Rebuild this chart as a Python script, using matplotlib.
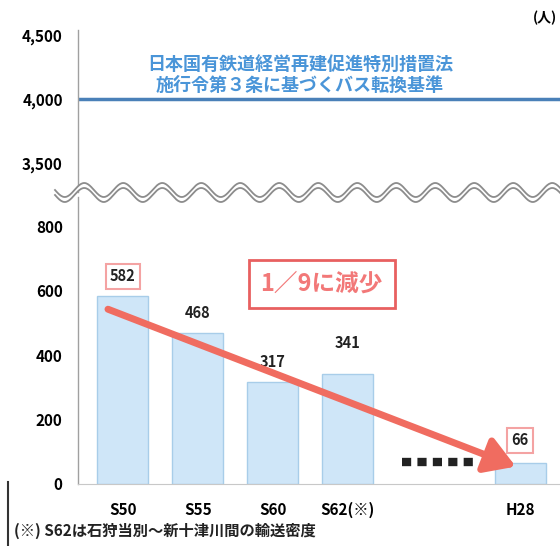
import numpy as np
import matplotlib.pyplot as plt
from matplotlib.lines import Line2D
from matplotlib.patches import Polygon

plt.rcParams['font.family'] = ['Noto Sans CJK JP', 'DejaVu Sans']

# data
categories = ["S50", "S55", "S60", "S62(※)", "H28"]
riders = [582, 468, 317, 341, 66]
x_pos = [0, 1, 2, 3, 5.3]
label_dy = [62, 62, 62, 95, 70]
upper_ticks = [3500, 4000, 4500]
lower_ticks = [0, 200, 400, 600, 800]
bus_threshold = 4000

W, H = 560, 546
fig = plt.figure(figsize=(W / 100, H / 100), dpi=100)


def fy(px):
    return 1 - px / H


ax_left = 78 / W
ax_w = 1 - ax_left
xlim = (-0.6, 5.83)

# lower panel: 0 at y=484, 890 at y=197
ax = fig.add_axes([ax_left, fy(484), ax_w, fy(197) - fy(484)])
# upper panel: 3280 at y=192, 4540 at y=30
ax_top = fig.add_axes([ax_left, fy(192), ax_w, fy(30) - fy(192)])

grey = "#a0a0a0"
for a in (ax, ax_top):
    a.set_xlim(*xlim)
    for s in ("top", "right"):
        a.spines[s].set_visible(False)
    a.spines["left"].set_color(grey)
    a.spines["left"].set_linewidth(1)
    a.tick_params(length=0, labelsize=11, pad=11)

ax_top.spines["bottom"].set_visible(False)
ax_top.set_xticks([])
ax_top.set_ylim(3280, 4540)
ax_top.set_yticks(upper_ticks)
ax_top.set_yticklabels([f"{v:,}" for v in upper_ticks], fontweight="bold", fontsize=11)
ax_top.axhline(bus_threshold, color="#4a80b8", lw=2.5)
ax_top.text(2.36, 4190, "日本国有鉄道経営再建促進特別措置法\n施行令第３条に基づくバス転換基準",
            ha="center", va="center", color="#4a95d8", fontsize=13,
            fontweight="bold", linespacing=1.15)
fig.text(0.995, fy(18), "(人)", ha="right", va="center", fontsize=10, fontweight="bold")

ax.set_ylim(0, 890)
ax.set_yticks(lower_ticks)
ax.set_yticklabels([str(v) for v in lower_ticks], fontweight="bold", fontsize=11)
ax.spines["bottom"].set_color("#c8c8c8")
ax.set_xticks(x_pos)
ax.set_xticklabels(categories, fontweight="bold", fontsize=11)
ax.tick_params(axis="x", pad=13)

ax.bar(x_pos, riders, width=0.68, color="#cfe6f8", edgecolor="#a8cde9", linewidth=1, zorder=2)

for i, (x, v, dy) in enumerate(zip(x_pos, riders, label_dy)):
    boxed = i in (0, len(riders) - 1)
    bbox = dict(boxstyle="square,pad=0.3", fc="white", ec="#f4a3a3", lw=1.5) if boxed else None
    ax.text(x, v + dy, str(v), ha="center", va="center", fontsize=10.5,
            fontweight="bold", color="#222222", bbox=bbox, zorder=4)

# dotted gap marker
ax.plot([3.72, 4.67], [68, 68], color="#222222", lw=6, ls=(0, (1.1, 0.75)),
        dash_capstyle="butt", zorder=3)

# red arrow from first to last value
ax.annotate("", xy=(x_pos[-1] - 0.06, riders[-1] - 12),
            xytext=(x_pos[0] - 0.2, riders[0] - 40),
            arrowprops=dict(arrowstyle="-|>,head_length=1.8,head_width=1.1",
                            color="#f06c60", lw=5, shrinkA=0, shrinkB=0),
            zorder=5)

ax.text(2.65, 620, "1／9に減少", ha="center", va="center", fontsize=17,
        fontweight="bold", color="#f27878",
        bbox=dict(boxstyle="square,pad=0.5", fc="white", ec="#e86060", lw=2), zorder=4)

# wavy axis break
xs = np.linspace(55, W, 600)
wave = 7 * np.sin(2 * np.pi * (xs - 55) / 39)
y1 = 190 + wave
y2 = 195 + wave
band = np.column_stack([np.r_[xs, xs[::-1]] / W, fy(np.r_[y1, y2[::-1]])])
fig.add_artist(Polygon(band, closed=True, transform=fig.transFigure,
                       fc="white", ec="none", zorder=5))
for yy in (y1, y2):
    fig.add_artist(Line2D(xs / W, fy(yy), transform=fig.transFigure,
                          color="#8c8c8c", lw=1.3, zorder=6))

# footnote
fig.add_artist(Line2D([8 / W, 8 / W], [fy(482), fy(546)], transform=fig.transFigure,
                      color="#333333", lw=1.5))
fig.text(14 / W, fy(531), "(※) S62は石狩当別～新十津川間の輸送密度", ha="left", va="center",
         fontsize=11, fontweight="bold", color="#222222")

fig.savefig("out.png", dpi=100, facecolor="white")
